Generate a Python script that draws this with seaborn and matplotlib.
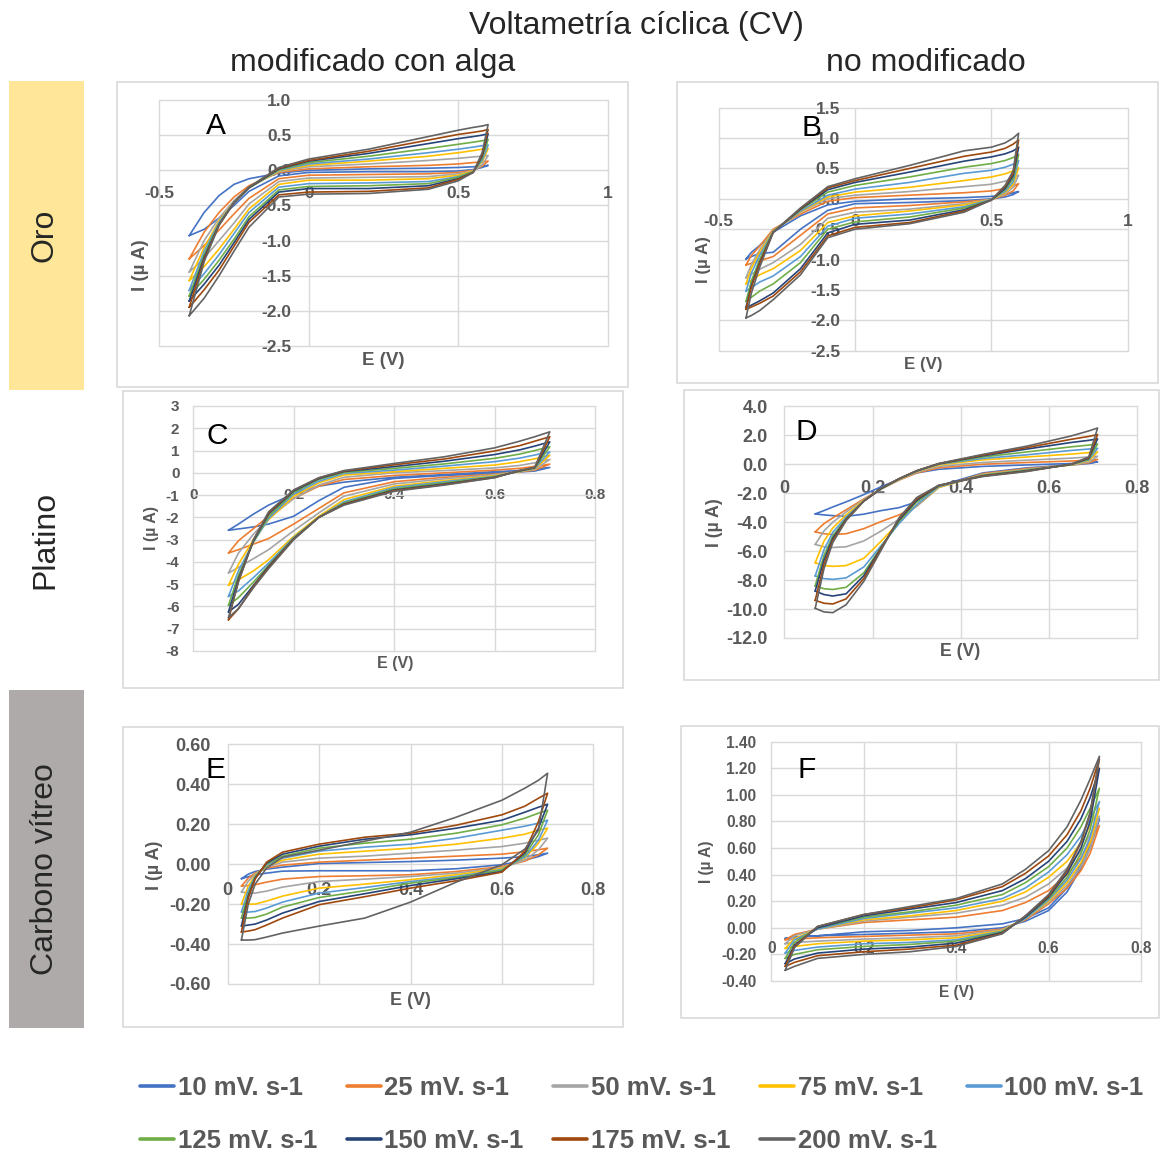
import matplotlib
matplotlib.use("Agg")
import matplotlib.pyplot as plt
from matplotlib.lines import Line2D
from matplotlib.patches import Rectangle
from matplotlib import font_manager
import pandas as pd
import seaborn as sns

# scan rates and Office-style colours
RATES = ["10 mV. s-1", "25 mV. s-1", "50 mV. s-1", "75 mV. s-1", "100 mV. s-1",
         "125 mV. s-1", "150 mV. s-1", "175 mV. s-1", "200 mV. s-1"]
COLORS = ["#4472C4", "#ED7D31", "#A5A5A5", "#FFC000", "#5B9BD5",
          "#70AD47", "#264478", "#9E480E", "#636363"]

# ---- A: oro, modificado con alga ----
E_A = [-0.4, -0.35, -0.3, -0.25, -0.2, -0.1, 0.0, 0.2, 0.4, 0.5, 0.55, 0.58, 0.6]
A_UP = [
    [-0.93, -0.60, -0.36, -0.20, -0.12, -0.04, 0.00, 0.02, 0.03, 0.04, 0.05, 0.06, 0.07],
    [-1.26, -0.88, -0.60, -0.38, -0.22, -0.03, 0.02, 0.05, 0.07, 0.09, 0.11, 0.12, 0.13],
    [-1.45, -1.00, -0.68, -0.43, -0.24, -0.02, 0.05, 0.09, 0.14, 0.17, 0.19, 0.20, 0.21],
    [-1.57, -1.10, -0.72, -0.45, -0.25, -0.01, 0.07, 0.13, 0.20, 0.25, 0.28, 0.30, 0.31],
    [-1.71, -1.15, -0.74, -0.45, -0.25, 0.00, 0.09, 0.16, 0.25, 0.30, 0.33, 0.35, 0.36],
    [-1.79, -1.20, -0.76, -0.46, -0.25, 0.01, 0.11, 0.20, 0.31, 0.37, 0.40, 0.42, 0.44],
    [-1.86, -1.24, -0.77, -0.46, -0.25, 0.02, 0.13, 0.24, 0.38, 0.45, 0.48, 0.50, 0.52],
    [-1.95, -1.27, -0.78, -0.46, -0.24, 0.03, 0.14, 0.27, 0.43, 0.51, 0.54, 0.56, 0.58],
    [-2.07, -1.30, -0.78, -0.46, -0.24, 0.04, 0.16, 0.30, 0.48, 0.57, 0.61, 0.63, 0.65],
]
A_DOWN = [
    [-0.93, -0.84, -0.68, -0.50, -0.30, -0.08, -0.03, -0.02, -0.02, -0.01, 0.01, 0.04, 0.07],
    [-1.26, -1.07, -0.85, -0.62, -0.40, -0.12, -0.07, -0.06, -0.05, -0.03, 0.00, 0.06, 0.13],
    [-1.45, -1.25, -1.00, -0.75, -0.48, -0.16, -0.11, -0.10, -0.09, -0.05, -0.01, 0.08, 0.21],
    [-1.57, -1.37, -1.12, -0.84, -0.55, -0.20, -0.14, -0.14, -0.12, -0.07, -0.01, 0.12, 0.31],
    [-1.71, -1.47, -1.20, -0.90, -0.60, -0.24, -0.19, -0.18, -0.16, -0.09, -0.02, 0.14, 0.36],
    [-1.79, -1.55, -1.28, -0.98, -0.66, -0.28, -0.23, -0.22, -0.19, -0.10, -0.02, 0.17, 0.44],
    [-1.86, -1.62, -1.35, -1.03, -0.70, -0.31, -0.26, -0.26, -0.22, -0.12, -0.03, 0.20, 0.52],
    [-1.95, -1.70, -1.42, -1.08, -0.74, -0.35, -0.31, -0.30, -0.25, -0.13, -0.03, 0.22, 0.58],
    [-2.07, -1.82, -1.50, -1.15, -0.81, -0.38, -0.34, -0.33, -0.27, -0.15, -0.03, 0.25, 0.65],
]

# ---- B: oro, no modificado ----
E_B = [-0.4, -0.38, -0.35, -0.3, -0.2, -0.1, 0.0, 0.2, 0.4, 0.5, 0.55, 0.58, 0.6]
B_UP = [
    [-0.99, -0.88, -0.77, -0.55, -0.28, -0.10, -0.04, 0.00, 0.02, 0.04, 0.07, 0.10, 0.12],
    [-1.09, -0.93, -0.78, -0.50, -0.25, -0.04, 0.02, 0.06, 0.10, 0.13, 0.17, 0.21, 0.25],
    [-1.30, -1.08, -0.84, -0.52, -0.22, 0.00, 0.06, 0.12, 0.20, 0.24, 0.29, 0.34, 0.39],
    [-1.40, -1.14, -0.88, -0.53, -0.21, 0.03, 0.11, 0.19, 0.30, 0.36, 0.41, 0.46, 0.51],
    [-1.52, -1.22, -0.93, -0.54, -0.20, 0.06, 0.16, 0.27, 0.42, 0.47, 0.52, 0.57, 0.63],
    [-1.69, -1.35, -1.00, -0.54, -0.18, 0.11, 0.22, 0.36, 0.52, 0.58, 0.63, 0.68, 0.73],
    [-1.79, -1.42, -1.05, -0.55, -0.17, 0.15, 0.27, 0.44, 0.62, 0.69, 0.74, 0.79, 0.85],
    [-1.82, -1.45, -1.07, -0.55, -0.16, 0.18, 0.30, 0.50, 0.70, 0.77, 0.83, 0.90, 0.97],
    [-1.96, -1.55, -1.13, -0.55, -0.15, 0.20, 0.33, 0.55, 0.79, 0.85, 0.92, 1.00, 1.08],
]
B_DOWN = [
    [-0.99, -0.95, -0.90, -0.88, -0.50, -0.19, -0.08, -0.06, -0.03, 0.00, 0.03, 0.07, 0.12],
    [-1.09, -1.06, -1.02, -0.95, -0.60, -0.25, -0.15, -0.11, -0.05, -0.01, 0.06, 0.13, 0.25],
    [-1.30, -1.24, -1.16, -1.05, -0.75, -0.32, -0.22, -0.17, -0.08, -0.01, 0.08, 0.19, 0.39],
    [-1.40, -1.34, -1.25, -1.15, -0.85, -0.39, -0.28, -0.20, -0.10, -0.01, 0.10, 0.24, 0.51],
    [-1.52, -1.46, -1.37, -1.27, -0.95, -0.45, -0.32, -0.25, -0.13, -0.01, 0.12, 0.28, 0.63],
    [-1.69, -1.62, -1.52, -1.40, -1.05, -0.50, -0.38, -0.30, -0.15, -0.02, 0.15, 0.33, 0.73],
    [-1.79, -1.75, -1.68, -1.55, -1.15, -0.56, -0.42, -0.35, -0.18, -0.02, 0.17, 0.38, 0.85],
    [-1.82, -1.78, -1.72, -1.60, -1.20, -0.61, -0.47, -0.39, -0.20, -0.02, 0.20, 0.42, 0.97],
    [-1.96, -1.92, -1.84, -1.66, -1.25, -0.64, -0.50, -0.41, -0.22, -0.02, 0.22, 0.46, 1.08],
]

# ---- C: platino, modificado con alga ----
E_C = [0.07, 0.09, 0.12, 0.15, 0.2, 0.25, 0.3, 0.4, 0.5, 0.6, 0.65, 0.68, 0.71]
C_UP = [
    [-2.58, -2.30, -1.85, -1.45, -0.95, -0.60, -0.42, -0.20, -0.08, 0.05, 0.10, 0.17, 0.24],
    [-3.60, -3.05, -2.50, -1.95, -1.15, -0.60, -0.30, -0.12, 0.00, 0.12, 0.20, 0.29, 0.39],
    [-4.50, -3.60, -2.75, -2.05, -1.15, -0.55, -0.20, 0.00, 0.10, 0.22, 0.33, 0.45, 0.60],
    [-5.05, -4.10, -3.00, -2.10, -1.05, -0.45, -0.10, 0.05, 0.20, 0.35, 0.50, 0.63, 0.79],
    [-5.55, -4.40, -3.10, -2.05, -0.95, -0.38, -0.03, 0.12, 0.30, 0.50, 0.66, 0.80, 0.94],
    [-5.95, -4.60, -3.10, -1.95, -0.88, -0.30, 0.02, 0.20, 0.40, 0.65, 0.84, 1.00, 1.17],
    [-6.25, -4.75, -3.05, -1.85, -0.82, -0.26, 0.06, 0.28, 0.52, 0.82, 1.03, 1.20, 1.39],
    [-6.60, -4.85, -3.00, -1.80, -0.78, -0.23, 0.08, 0.36, 0.62, 0.98, 1.22, 1.42, 1.62],
    [-6.50, -4.90, -3.00, -1.75, -0.77, -0.22, 0.10, 0.42, 0.72, 1.12, 1.42, 1.62, 1.84],
]
C_DOWN = [
    [-2.58, -2.52, -2.43, -2.30, -1.95, -1.25, -0.65, -0.25, -0.12, -0.02, 0.04, 0.08, 0.24],
    [-3.60, -3.45, -3.20, -2.95, -2.30, -1.60, -0.90, -0.40, -0.20, -0.06, 0.05, 0.12, 0.39],
    [-4.50, -4.25, -3.85, -3.45, -2.60, -1.80, -1.05, -0.50, -0.27, -0.09, 0.06, 0.15, 0.60],
    [-5.05, -4.80, -4.40, -3.90, -2.85, -1.95, -1.20, -0.60, -0.35, -0.13, 0.06, 0.18, 0.79],
    [-5.55, -5.30, -4.70, -4.05, -2.90, -2.00, -1.30, -0.66, -0.40, -0.16, 0.07, 0.20, 0.94],
    [-5.95, -5.60, -4.90, -4.15, -2.93, -2.00, -1.35, -0.72, -0.45, -0.18, 0.08, 0.22, 1.17],
    [-6.25, -5.90, -5.05, -4.20, -2.96, -2.00, -1.40, -0.77, -0.50, -0.20, 0.09, 0.23, 1.39],
    [-6.60, -6.10, -5.10, -4.25, -2.98, -2.00, -1.42, -0.80, -0.53, -0.21, 0.10, 0.24, 1.62],
    [-6.50, -6.10, -5.15, -4.30, -3.00, -2.00, -1.45, -0.83, -0.55, -0.22, 0.11, 0.25, 1.84],
]

# ---- D: platino, no modificado ----
E_D = [0.07, 0.09, 0.11, 0.14, 0.18, 0.22, 0.26, 0.3, 0.35, 0.45, 0.55, 0.65, 0.69, 0.71]
D_UP = [
    [-3.43, -3.20, -2.95, -2.60, -2.10, -1.55, -1.05, -0.60, -0.35, -0.15, -0.05, 0.05, 0.10, 0.16],
    [-4.67, -4.10, -3.70, -3.15, -2.40, -1.70, -1.10, -0.60, -0.25, 0.00, 0.12, 0.22, 0.28, 0.33],
    [-5.54, -4.60, -4.00, -3.30, -2.45, -1.70, -1.08, -0.55, -0.15, 0.12, 0.28, 0.42, 0.50, 0.55],
    [-6.80, -5.30, -4.40, -3.50, -2.50, -1.70, -1.05, -0.50, -0.05, 0.30, 0.50, 0.70, 0.80, 0.85],
    [-7.72, -5.90, -4.70, -3.65, -2.55, -1.70, -1.03, -0.48, 0.00, 0.40, 0.65, 0.95, 1.05, 1.10],
    [-8.40, -6.30, -4.95, -3.75, -2.55, -1.68, -1.02, -0.47, 0.02, 0.50, 0.85, 1.20, 1.32, 1.40],
    [-8.76, -6.60, -5.10, -3.80, -2.55, -1.67, -1.01, -0.46, 0.03, 0.58, 1.05, 1.50, 1.65, 1.75],
    [-9.40, -6.90, -5.25, -3.85, -2.55, -1.66, -1.00, -0.45, 0.04, 0.63, 1.15, 1.72, 1.92, 2.05],
    [-9.95, -7.20, -5.40, -3.90, -2.55, -1.65, -1.00, -0.45, 0.05, 0.68, 1.25, 1.95, 2.30, 2.50],
]
D_DOWN = [
    [-3.43, -3.50, -3.55, -3.60, -3.45, -3.20, -3.00, -2.60, -1.50, -0.60, -0.25, -0.05, 0.05, 0.16],
    [-4.67, -4.80, -4.85, -4.80, -4.45, -3.95, -3.50, -2.90, -1.60, -0.65, -0.30, -0.05, 0.10, 0.33],
    [-5.54, -5.70, -5.75, -5.70, -5.30, -4.60, -3.80, -2.90, -1.60, -0.70, -0.35, -0.05, 0.15, 0.55],
    [-6.80, -7.00, -7.05, -7.00, -6.50, -5.30, -4.00, -2.80, -1.60, -0.72, -0.38, -0.05, 0.25, 0.85],
    [-7.72, -7.90, -7.95, -7.85, -7.10, -5.60, -4.10, -2.80, -1.55, -0.75, -0.40, -0.03, 0.30, 1.10],
    [-8.40, -8.60, -8.65, -8.50, -7.50, -5.70, -3.95, -2.60, -1.50, -0.77, -0.42, -0.02, 0.35, 1.40],
    [-8.76, -9.00, -9.10, -8.95, -7.70, -5.75, -3.85, -2.50, -1.48, -0.80, -0.45, -0.01, 0.40, 1.75],
    [-9.40, -9.60, -9.65, -9.30, -7.90, -5.80, -3.75, -2.40, -1.46, -0.82, -0.48, 0.00, 0.45, 2.05],
    [-9.95, -10.20, -10.25, -9.70, -8.10, -5.90, -3.70, -2.30, -1.45, -0.85, -0.50, 0.00, 0.50, 2.50],
]

# ---- E: carbono vitreo, modificado con alga ----
E_E = [0.03, 0.045, 0.06, 0.085, 0.12, 0.2, 0.3, 0.4, 0.5, 0.6, 0.65, 0.68, 0.7]
E_UP = [
    [-0.073, -0.050, -0.037, -0.025, -0.015, 0.003, 0.008, 0.013, 0.020, 0.030, 0.038, 0.047, 0.055],
    [-0.110, -0.070, -0.045, -0.020, -0.005, 0.010, 0.020, 0.030, 0.040, 0.050, 0.062, 0.072, 0.080],
    [-0.140, -0.085, -0.050, -0.015, 0.010, 0.030, 0.040, 0.055, 0.070, 0.088, 0.105, 0.120, 0.130],
    [-0.200, -0.110, -0.055, -0.010, 0.020, 0.050, 0.065, 0.080, 0.100, 0.130, 0.150, 0.170, 0.180],
    [-0.240, -0.130, -0.060, -0.005, 0.030, 0.065, 0.085, 0.100, 0.130, 0.170, 0.190, 0.205, 0.220],
    [-0.270, -0.150, -0.065, 0.000, 0.040, 0.080, 0.105, 0.125, 0.155, 0.197, 0.230, 0.255, 0.270],
    [-0.310, -0.160, -0.070, 0.005, 0.050, 0.090, 0.125, 0.147, 0.180, 0.220, 0.260, 0.285, 0.300],
    [-0.340, -0.170, -0.075, 0.010, 0.060, 0.100, 0.135, 0.155, 0.195, 0.247, 0.290, 0.330, 0.355],
    [-0.380, -0.200, -0.100, -0.020, 0.035, 0.070, 0.115, 0.160, 0.235, 0.320, 0.380, 0.420, 0.455],
]
E_DOWN = [
    [-0.073, -0.063, -0.053, -0.045, -0.035, -0.033, -0.033, -0.033, -0.023, -0.003, 0.020, 0.038, 0.055],
    [-0.110, -0.107, -0.103, -0.090, -0.075, -0.062, -0.058, -0.053, -0.037, -0.012, 0.015, 0.047, 0.080],
    [-0.140, -0.143, -0.145, -0.135, -0.115, -0.087, -0.075, -0.062, -0.045, -0.018, 0.020, 0.072, 0.130],
    [-0.200, -0.200, -0.200, -0.185, -0.160, -0.120, -0.100, -0.078, -0.053, -0.022, 0.030, 0.105, 0.180],
    [-0.240, -0.240, -0.237, -0.220, -0.190, -0.145, -0.117, -0.087, -0.062, -0.027, 0.035, 0.120, 0.220],
    [-0.270, -0.270, -0.267, -0.250, -0.215, -0.167, -0.133, -0.095, -0.067, -0.030, 0.045, 0.147, 0.270],
    [-0.310, -0.305, -0.300, -0.280, -0.245, -0.187, -0.148, -0.107, -0.073, -0.037, 0.055, 0.180, 0.300],
    [-0.340, -0.335, -0.328, -0.305, -0.270, -0.203, -0.163, -0.120, -0.083, -0.040, 0.063, 0.213, 0.355],
    [-0.380, -0.380, -0.378, -0.365, -0.345, -0.310, -0.270, -0.190, -0.090, -0.003, 0.075, 0.170, 0.455],
]

# ---- F: carbono vitreo, no modificado ----
E_F = [0.03, 0.05, 0.1, 0.2, 0.3, 0.4, 0.5, 0.55, 0.6, 0.64, 0.67, 0.69, 0.71]
F_UP = [
    [-0.080, -0.070, -0.060, -0.030, -0.020, 0.000, 0.030, 0.070, 0.150, 0.300, 0.480, 0.630, 0.820],
    [-0.090, -0.050, -0.010, 0.040, 0.060, 0.080, 0.130, 0.190, 0.280, 0.400, 0.530, 0.650, 0.770],
    [-0.120, -0.060, -0.010, 0.050, 0.080, 0.110, 0.170, 0.230, 0.330, 0.450, 0.580, 0.700, 0.840],
    [-0.155, -0.080, -0.010, 0.060, 0.090, 0.130, 0.200, 0.270, 0.380, 0.500, 0.640, 0.770, 0.900],
    [-0.190, -0.090, -0.010, 0.070, 0.110, 0.150, 0.220, 0.300, 0.420, 0.550, 0.690, 0.820, 0.950],
    [-0.230, -0.110, 0.000, 0.080, 0.120, 0.170, 0.250, 0.340, 0.460, 0.600, 0.760, 0.900, 1.050],
    [-0.270, -0.130, 0.000, 0.090, 0.140, 0.190, 0.280, 0.370, 0.500, 0.650, 0.820, 0.980, 1.200],
    [-0.290, -0.140, 0.010, 0.100, 0.150, 0.210, 0.310, 0.410, 0.540, 0.700, 0.880, 1.050, 1.270],
    [-0.320, -0.150, 0.010, 0.100, 0.160, 0.220, 0.330, 0.440, 0.580, 0.760, 0.960, 1.120, 1.290],
]
F_DOWN = [
    [-0.080, -0.070, -0.060, -0.050, -0.040, -0.030, 0.000, 0.050, 0.130, 0.270, 0.450, 0.600, 0.820],
    [-0.090, -0.085, -0.075, -0.065, -0.055, -0.045, -0.010, 0.060, 0.180, 0.300, 0.430, 0.560, 0.770],
    [-0.120, -0.110, -0.100, -0.085, -0.075, -0.060, -0.015, 0.070, 0.190, 0.320, 0.460, 0.600, 0.840],
    [-0.155, -0.140, -0.120, -0.100, -0.090, -0.075, -0.020, 0.070, 0.200, 0.340, 0.490, 0.640, 0.900],
    [-0.190, -0.170, -0.145, -0.120, -0.110, -0.090, -0.025, 0.070, 0.210, 0.360, 0.520, 0.680, 0.950],
    [-0.230, -0.200, -0.165, -0.140, -0.125, -0.100, -0.030, 0.080, 0.220, 0.380, 0.560, 0.740, 1.050],
    [-0.270, -0.235, -0.190, -0.160, -0.145, -0.115, -0.035, 0.080, 0.230, 0.410, 0.600, 0.800, 1.200],
    [-0.290, -0.260, -0.210, -0.180, -0.160, -0.130, -0.040, 0.090, 0.240, 0.430, 0.640, 0.860, 1.270],
    [-0.320, -0.290, -0.230, -0.200, -0.180, -0.140, -0.045, 0.090, 0.250, 0.440, 0.650, 0.870, 1.290],
]

W, H = 1160, 1155
GRID = "#D9D9D9"
TXT = "#595959"


def fx(x):
    return x / W


def fy(y):
    return 1 - y / H


def px_rect(x0, y0, x1, y1):
    return [x0 / W, 1 - y1 / H, (x1 - x0) / W, (y1 - y0) / H]


def loop_frame(e, up, down):
    """Forward sweep then reverse sweep, one closed loop per scan rate."""
    parts = []
    for label, iu, idn in zip(RATES, up, down):
        parts.append(pd.DataFrame({"E": list(e) + list(e)[::-1],
                                   "I": list(iu) + list(idn)[::-1],
                                   "rate": label}))
    return pd.concat(parts, ignore_index=True)


# panel layout in pixels
PANELS = [
    dict(e=E_A, up=A_UP, down=A_DOWN, box=(159.3, 100, 607.7, 346), frame=(116.7, 81.7, 628, 386.7),
         xt=[-0.5, 0, 0.5, 1], yt=[-2.5, -2.0, -1.5, -1.0, -0.5, 0.0, 0.5, 1.0], yfmt="{:.1f}",
         fs=12.5, lfs=13.5, xpad=11.5, ypad=12.5, xl=(0.499, -0.057), yl=(-0.043, 0.329),
         letter="A", lpos=(216, 134)),
    dict(e=E_B, up=B_UP, down=B_DOWN, box=(718.7, 107.7, 1127.7, 350.7), frame=(677, 82, 1158, 383),
         xt=[-0.5, 0, 0.5, 1], yt=[-2.5, -2.0, -1.5, -1.0, -0.5, 0.0, 0.5, 1.0, 1.5], yfmt="{:.1f}",
         fs=12.5, lfs=12.2, xpad=10.8, ypad=10.8, xl=(0.4995, -0.055), yl=(-0.036, 0.373),
         letter="B", lpos=(811, 136)),
    dict(e=E_C, up=C_UP, down=C_DOWN, box=(193.3, 406, 595, 651), frame=(123, 391, 622.7, 688),
         xt=[0, 0.2, 0.4, 0.6, 0.8], yt=list(range(-8, 4)), yfmt="{:.0f}",
         fs=11, lfs=11.5, xpad=11, ypad=10, xl=(0.502, -0.053), yl=(-0.103, 0.502),
         letter="C", lpos=(217, 443.5)),
    dict(e=E_D, up=D_UP, down=D_DOWN, box=(784.3, 406.3, 1137.3, 638), frame=(683.7, 389.7, 1158.7, 679.7),
         xt=[0, 0.2, 0.4, 0.6, 0.8], yt=[-12, -10, -8, -6, -4, -2, 0, 2, 4], yfmt="{:.1f}",
         fs=13, lfs=12.8, xpad=11.7, ypad=11.7, xl=(0.498, -0.06), yl=(-0.199, 0.496),
         letter="D", lpos=(806, 440)),
    dict(e=E_E, up=E_UP, down=E_DOWN, box=(227.7, 744.3, 593.3, 984), frame=(122.7, 726.7, 622.7, 1026.7),
         xt=[0, 0.2, 0.4, 0.6, 0.8], yt=[-0.6, -0.4, -0.2, 0.0, 0.2, 0.4, 0.6], yfmt="{:.2f}",
         fs=13, lfs=13, xpad=12.7, ypad=12.2, xl=(0.499, -0.067), yl=(-0.199, 0.496),
         letter="E", lpos=(216, 778)),
    dict(e=E_F, up=F_UP, down=F_DOWN, box=(771.3, 741.7, 1141, 981), frame=(681, 726, 1159, 1018),
         xt=[0, 0.2, 0.4, 0.6, 0.8], yt=[-0.4, -0.2, 0.0, 0.2, 0.4, 0.6, 0.8, 1.0, 1.2, 1.4], yfmt="{:.2f}",
         fs=11.2, lfs=11.2, xpad=9.6, ypad=10.8, xl=(0.5, -0.05), yl=(-0.175, 0.499),
         letter="F", lpos=(806.5, 778)),
]

sns.set_theme(style="white")
plt.rcParams["font.family"] = ["Liberation Sans", "DejaVu Sans"]

fig = plt.figure(figsize=(W / 100, H / 100), dpi=100)

# row label boxes
fig.add_artist(Rectangle((fx(9), fy(390)), 75 / W, 309 / H, transform=fig.transFigure,
                         facecolor="#FFE699", edgecolor="none"))
fig.add_artist(Rectangle((fx(9), fy(1027.7)), 75 / W, 337.7 / H, transform=fig.transFigure,
                         facecolor="#AEAAAA", edgecolor="none"))
fig.text(fx(45), fy(235), "Oro", rotation=90, ha="center", va="center", fontsize=23)
fig.text(fx(45), fy(540), "Platino", rotation=90, ha="center", va="center", fontsize=23)
fig.text(fx(45), fy(869), "Carbono vítreo", rotation=90, ha="center", va="center", fontsize=23)

# titles
fig.text(fx(636), fy(34), "Voltametría cíclica (CV)", ha="center", va="baseline", fontsize=23)
fig.text(fx(373), fy(71), "modificado con alga", ha="center", va="baseline", fontsize=23)
fig.text(fx(926), fy(71), "no modificado", ha="center", va="baseline", fontsize=23)

for p in PANELS:
    x0, y0, x1, y1 = p["frame"]
    fig.add_artist(Rectangle((fx(x0), fy(y1)), (x1 - x0) / W, (y1 - y0) / H,
                             transform=fig.transFigure, facecolor="none",
                             edgecolor=GRID, lw=1.2))

    ax = fig.add_axes(px_rect(*p["box"]))
    df = loop_frame(p["e"], p["up"], p["down"])
    sns.lineplot(data=df, x="E", y="I", hue="rate", hue_order=RATES, palette=COLORS,
                 sort=False, estimator=None, legend=False, linewidth=1.2, ax=ax)

    # Excel-like axes crossing at zero (set before the tick labels)
    for s in ax.spines.values():
        s.set_visible(False)
    ax.spines["bottom"].set_position(("data", 0))
    ax.spines["left"].set_position(("data", 0))

    ax.set_xlim(p["xt"][0], p["xt"][-1])
    ax.set_ylim(p["yt"][0], p["yt"][-1])
    ax.tick_params(axis="x", length=0, pad=p["xpad"], labelsize=p["fs"], labelcolor=TXT)
    ax.tick_params(axis="y", length=0, pad=p["ypad"], labelsize=p["fs"], labelcolor=TXT)
    ax.set_xticks(p["xt"])
    ax.set_xticklabels([f"{v:g}" for v in p["xt"]], fontweight="bold")
    ax.set_yticks(p["yt"])
    ax.set_yticklabels([p["yfmt"].format(v) for v in p["yt"]], fontweight="bold")

    ax.grid(True, color=GRID, lw=1.0)
    ax.set_axisbelow(True)
    for gl in ax.get_xgridlines() + ax.get_ygridlines():
        gl.set_clip_on(False)

    ax.set_xlabel("E (V)", fontsize=p["lfs"], fontweight="bold", color=TXT, va="center")
    ax.xaxis.set_label_coords(*p["xl"])
    ax.set_ylabel("I (µ A)", fontsize=p["lfs"], fontweight="bold", color=TXT,
                  va="center", ha="center")
    ax.yaxis.set_label_coords(*p["yl"])

    fig.text(fx(p["lpos"][0]), fy(p["lpos"][1]), p["letter"], ha="center",
             va="baseline", fontsize=21.5, color="black")

# legend: two rows, five slots per row
names = {f.name for f in font_manager.fontManager.ttflist}
if "Liberation Sans Narrow" in names:
    leg_family, leg_size = "Liberation Sans Narrow", 22.5
else:
    leg_family, leg_size = "Liberation Sans", 18.5
handles = [Line2D([], [], color=c, lw=2.6) for c in COLORS]
order = [0, 5, 1, 6, 2, 7, 3, 8, 4]
fig.legend([handles[i] for i in order], [RATES[i] for i in order], ncol=5,
           loc="upper left", bbox_to_anchor=(fx(140), fy(1076)), frameon=False,
           prop={"family": leg_family, "size": leg_size, "weight": "bold"},
           labelcolor=TXT, handlelength=1.32, handletextpad=0.15, columnspacing=1.15,
           labelspacing=1.13, borderpad=0, borderaxespad=0)

fig.savefig("out.png", dpi=100)
